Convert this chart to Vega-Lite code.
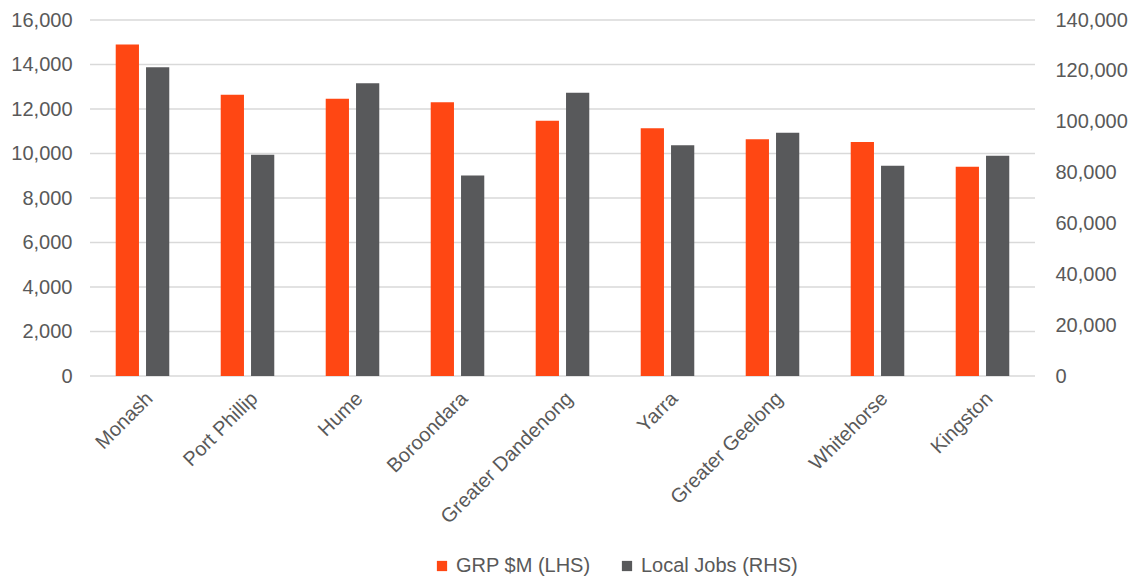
{
  "$schema": "https://vega.github.io/schema/vega-lite/v6.json",
  "width": 945,
  "height": 356,
  "autosize": {"type": "none"},
  "padding": {"left": 90, "top": 20, "right": 102, "bottom": 201},
  "background": "white",
  "config": {
    "view": {"stroke": null},
    "font": "Liberation Sans",
    "axis": {"labelFont": "Liberation Sans", "labelColor": "#595959", "labelFontSize": 20, "domain": false, "ticks": false},
    "legend": {"labelFont": "Liberation Sans", "labelColor": "#595959", "labelFontSize": 20}
  },
  "data": {
    "values": [
      {"area": "Monash", "grp": 14900, "jobs": 121400},
      {"area": "Port Phillip", "grp": 12640, "jobs": 87000},
      {"area": "Hume", "grp": 12460, "jobs": 115100},
      {"area": "Boroondara", "grp": 12300, "jobs": 78800},
      {"area": "Greater Dandenong", "grp": 11470, "jobs": 111400},
      {"area": "Yarra", "grp": 11130, "jobs": 90700},
      {"area": "Greater Geelong", "grp": 10640, "jobs": 95700},
      {"area": "Whitehorse", "grp": 10520, "jobs": 82700},
      {"area": "Kingston", "grp": 9410, "jobs": 86600}
    ]
  },
  "encoding": {
    "x": {
      "field": "area", "type": "nominal", "sort": null, "title": null,
      "scale": {"paddingInner": 0.49, "paddingOuter": 0.245},
      "axis": {"labelAngle": -45, "labelPadding": 12, "grid": false}
    }
  },
  "layer": [
    {
      "mark": {"type": "rule", "color": "#d9d9d9", "strokeWidth": 1.5},
      "data": {"values": [{"v": 0}, {"v": 2000}, {"v": 4000}, {"v": 6000}, {"v": 8000}, {"v": 10000}, {"v": 12000}, {"v": 14000}, {"v": 16000}]},
      "encoding": {
        "x": null,
        "y": {"field": "v", "type": "quantitative", "scale": {"domain": [0, 16000]}, "axis": null}
      }
    },
    {
      "mark": {"type": "bar"},
      "encoding": {
        "xOffset": {"datum": "GRP $M (LHS)", "scale": {"domain": ["GRP $M (LHS)", "Local Jobs (RHS)"], "paddingInner": 0.233, "paddingOuter": 0}},
        "y": {"field": "grp", "type": "quantitative", "scale": {"domain": [0, 16000], "nice": false},
          "axis": {"orient": "left", "values": [0, 2000, 4000, 6000, 8000, 10000, 12000, 14000, 16000], "format": ",.0f", "grid": false, "title": null, "labelPadding": 18}},
        "color": {"datum": "GRP $M (LHS)", "scale": {"domain": ["GRP $M (LHS)", "Local Jobs (RHS)"], "range": ["#FF4713", "#58595B"]},
          "legend": {"title": null, "orient": "none", "direction": "horizontal", "legendX": 342, "legendY": 536, "symbolType": "square", "symbolSize": 105, "columnPadding": 26, "labelOffset": 4}}
      }
    },
    {
      "mark": {"type": "bar"},
      "encoding": {
        "xOffset": {"datum": "Local Jobs (RHS)"},
        "y": {"field": "jobs", "type": "quantitative", "scale": {"domain": [0, 140000], "nice": false},
          "axis": {"orient": "right", "values": [0, 20000, 40000, 60000, 80000, 100000, 120000, 140000], "format": ",.0f", "grid": false, "title": null, "labelPadding": 20}},
        "color": {"datum": "Local Jobs (RHS)"}
      }
    }
  ],
  "resolve": {"scale": {"y": "independent"}}
}
